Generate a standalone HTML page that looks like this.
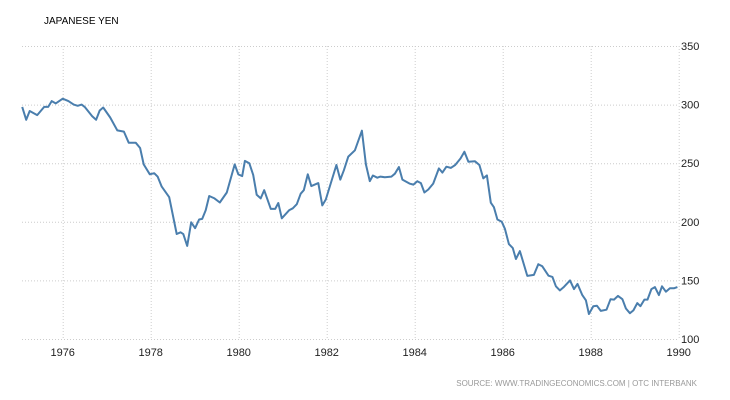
<!DOCTYPE html>
<html><head><meta charset="utf-8"><style>
body{margin:0;background:#fff;}
svg{display:block;font-family:"Liberation Sans",sans-serif;}
</style></head><body>
<svg id="chart" width="730" height="400" viewBox="0 0 730 400">
<text x="44" y="24" font-size="10" fill="#000">JAPANESE YEN</text>
<g id="grid"></g><g id="axes"></g><path id="line" fill="none" stroke="#4a7ead" stroke-width="2" stroke-linejoin="round"/>
<text x="697" y="386" font-size="8" fill="#999" text-anchor="end">SOURCE: WWW.TRADINGECONOMICS.COM | OTC INTERBANK</text>
</svg>
<script>
const years=[1975.08,1975.17,1975.25,1975.42,1975.58,1975.67,1975.75,1975.84,1976.0,1976.13,1976.25,1976.34,1976.43,1976.5,1976.67,1976.76,1976.84,1976.92,1977.08,1977.24,1977.39,1977.5,1977.66,1977.76,1977.84,1977.98,1978.08,1978.16,1978.25,1978.42,1978.59,1978.68,1978.74,1978.83,1978.92,1979.01,1979.1,1979.17,1979.25,1979.33,1979.45,1979.57,1979.73,1979.91,1979.99,1980.08,1980.14,1980.24,1980.33,1980.41,1980.5,1980.58,1980.73,1980.83,1980.9,1980.98,1981.15,1981.23,1981.32,1981.41,1981.48,1981.57,1981.65,1981.81,1981.9,1981.98,1982.22,1982.31,1982.39,1982.49,1982.64,1982.8,1982.89,1982.98,1983.05,1983.15,1983.22,1983.32,1983.47,1983.55,1983.64,1983.72,1983.89,1983.97,1984.06,1984.14,1984.22,1984.31,1984.42,1984.55,1984.63,1984.72,1984.82,1984.92,1985.04,1985.13,1985.22,1985.37,1985.47,1985.56,1985.64,1985.73,1985.8,1985.88,1985.98,1986.05,1986.14,1986.23,1986.3,1986.39,1986.56,1986.71,1986.81,1986.9,1987.04,1987.13,1987.21,1987.3,1987.38,1987.53,1987.62,1987.7,1987.81,1987.89,1987.96,1988.06,1988.14,1988.23,1988.36,1988.45,1988.53,1988.62,1988.72,1988.8,1988.89,1988.97,1989.06,1989.13,1989.22,1989.29,1989.38,1989.46,1989.55,1989.62,1989.71,1989.8,1989.89,1989.97];
const values=[298,287,294.5,291,298,298,303,301,305,303,300,299,300,298,290,287,295,297.5,289,278,277,267.5,267.5,263,249,240.5,241.5,238.5,230,221,189.6,191,189.5,179.4,199.6,194.5,202,202.5,209.8,222,220,216.5,225,249,240.5,239,252,250,240,223,220,227,211,211,216,203,210,211.5,215,224,227,240.5,230.5,233,214,219,248.5,236,244,255.6,261,277.7,249,234.7,239.5,237.6,238.6,238,238.6,241,246.8,236,232.5,231.7,234.6,233,225,227.6,232.6,245.6,242,247,246,248.5,254,259.8,251.3,251.6,248.5,237,239.6,216.3,212.5,202,200,194,181,177.6,168.3,175,153.8,154.7,163.8,162,154,153,145,141.5,144,150,142.6,147,137.5,133,121.3,128,128.4,124,125,133.9,133.6,136.8,134,126,122,124.4,130.6,128,133.6,133.6,142.6,144.3,137.5,145,140.4,143.3,143.3,144.3];
const yTicks=[100,150,200,250,300,350];
const xTicks=[1976,1978,1980,1982,1984,1986,1988,1990];
const X0=22,X1=677.7;
function xs(y){return 18.7+(y-1975)*44;}
function ys(v){return 339-(v-100)*1.172;}
const NS="http://www.w3.org/2000/svg";
const grid=document.getElementById('grid'),axes=document.getElementById('axes');
yTicks.forEach(v=>{
 const l=document.createElementNS(NS,'line');
 
 
 l.setAttribute('x1',X0);l.setAttribute('x2',X1);l.setAttribute('y1',ys(v)+0.5);l.setAttribute('y2',ys(v)+0.5);
 l.setAttribute('stroke','#ccc');l.setAttribute('stroke-dasharray','1,2');grid.appendChild(l);
 const t=document.createElementNS(NS,'text');
 
 
 t.setAttribute('x',681);t.setAttribute('y',ys(v)+4);t.setAttribute('font-size','11');t.setAttribute('fill','#222');
 t.textContent=v;axes.appendChild(t);
});
xTicks.forEach(y=>{
 const l=document.createElementNS(NS,'line');
 
 
 l.setAttribute('x1',xs(y)+0.5);l.setAttribute('x2',xs(y)+0.5);l.setAttribute('y1',ys(350));l.setAttribute('y2',ys(100));
 l.setAttribute('stroke','#ccc');l.setAttribute('stroke-dasharray','1,2');grid.appendChild(l);
 const t=document.createElementNS(NS,'text');
 
 
 t.setAttribute('x',xs(y));t.setAttribute('y',356);t.setAttribute('font-size','11');t.setAttribute('fill','#222');t.setAttribute('text-anchor','middle');
 t.textContent=y;axes.appendChild(t);
});
document.getElementById('line').setAttribute('d',years.map((y,i)=>(i?'L':'M')+xs(y).toFixed(1)+','+ys(values[i]).toFixed(1)).join(''));
</script>
</body></html>
